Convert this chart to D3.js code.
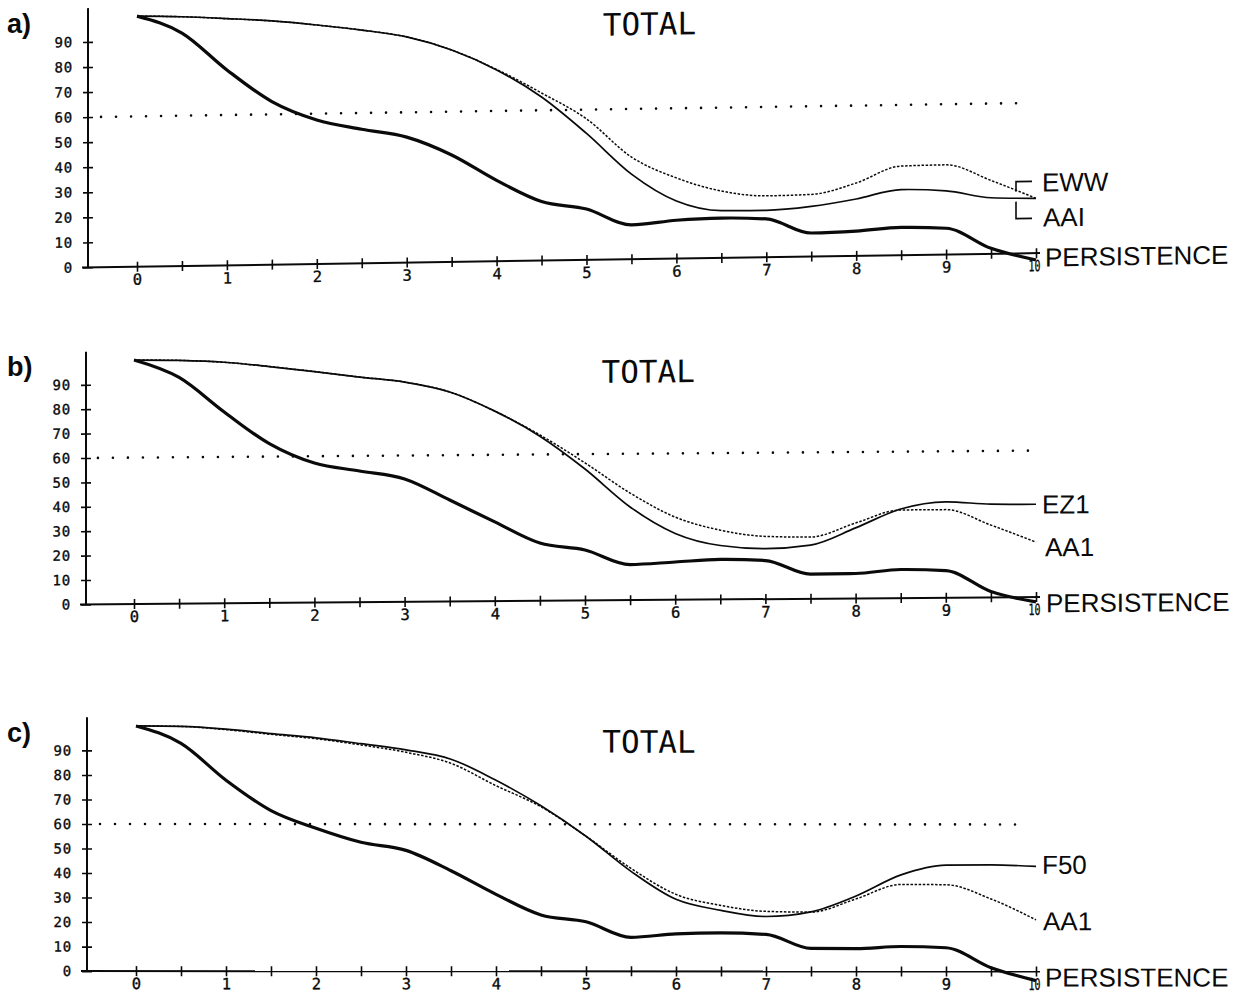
<!DOCTYPE html>
<html>
<head>
<meta charset="utf-8">
<script src="https://cdn.jsdelivr.net/npm/d3@7"></script>
<style>
  html, body { margin: 0; padding: 0; background: #fff; }
  svg { display: block; }
</style>
</head>
<body>
<script>
// Forecast day (12-hourly steps)
const days = [0, 0.5, 1, 1.5, 2, 2.5, 3, 3.5, 4, 4.5, 5, 5.5, 6, 6.5, 7, 7.5, 8, 8.5, 9, 9.5, 10];

// Axis ticks
const yTickValues = [0, 10, 20, 30, 40, 50, 60, 70, 80, 90];
const xTickValues = [0, 0.5, 1, 1.5, 2, 2.5, 3, 3.5, 4, 4.5, 5, 5.5, 6, 6.5, 7, 7.5, 8, 8.5, 9, 9.5, 10];
const xTickLabels = ["0", "1", "2", "3", "4", "5", "6", "7", "8", "9", "10"];
const thresholdValue = 60;
const titleText = "TOTAL";

// Panel a
const persistenceA = [100, 93, 78, 65.1, 57.5, 53.5, 50.1, 42.7, 32.3, 23.6, 20.3, 13.7, 15.3, 15.9, 15.3, 9.4, 9.9, 11.1, 10.5, 2.2, -2.7];
const ewwA = [100, 99.5, 98.5, 97.3, 95.4, 93.1, 90.1, 84.6, 76.4, 65.3, 50.5, 34, 23, 18.9, 18.7, 20, 22.7, 26.2, 25.4, 22.4, 21.9];
const aaiA = [100, 99.5, 98.5, 97.3, 95.4, 93.1, 90.1, 84.6, 76.6, 66.9, 56.3, 40.8, 32.2, 26.7, 24.5, 24.8, 29.1, 35.6, 35.8, 29.3, 21.9];

// Panel b
const persistenceB = [100, 92.7, 78.4, 65.3, 57.2, 53.8, 50.4, 41.6, 32.5, 23.7, 20.7, 14.6, 15.5, 16.4, 15.8, 10.1, 10.2, 11.7, 11.1, 2.4, -2.0];
const ez1B = [100, 99.7, 98.8, 96.9, 94.7, 92.3, 90.1, 85.9, 77.9, 67.5, 53.9, 38.2, 27.2, 22.1, 20.7, 22, 28.9, 36.5, 39.3, 38.2, 38];
const aa1B = [100, 99.7, 98.8, 96.9, 94.7, 92.3, 90.1, 85.9, 77.9, 68, 56.4, 43.9, 33.9, 28.4, 25.7, 25.3, 30.9, 36.1, 36.1, 29.6, 22.5];

// Panel c
const persistenceC = [100, 92.9, 77.9, 65.5, 58.3, 52.6, 49.3, 41, 31.4, 23, 20.2, 13.9, 15.3, 15.7, 15.1, 9.4, 9.3, 10.2, 9.7, 1.6, -3.7];
const f50C = [100, 99.8, 98.7, 96.9, 95.2, 92.8, 90.3, 86.5, 77.9, 67.5, 55.1, 40.8, 29.4, 24.9, 22.4, 24.3, 30.8, 39.4, 43.4, 43.5, 42.9];
const aa1C = [100, 99.8, 98.5, 96.6, 94.8, 92.3, 89.3, 84.8, 75.7, 67.1, 55.1, 42, 31.4, 26.9, 24.5, 24.2, 29.6, 35.5, 35.4, 29.6, 21.1];

const W = 1238, H = 998;
const svg = d3.select("body").append("svg")
  .attr("width", W).attr("height", H)
  .attr("viewBox", `0 0 ${W} ${H}`);

svg.append("rect").attr("width", W).attr("height", H).attr("fill", "#fff");

const INK = "#0a0a0a";
const plotFont = "'DejaVu Sans Mono', 'Liberation Mono', monospace";
const labelFont = "'Liberation Sans', Arial, sans-serif";

// Geometry of each panel (the plotter output is slightly sheared on the page)
const panels = [
  {
    tag: "a)", axisX: 88, x0: 137, x10: 1036, yZero: 267.4, unit: 2.505, shear: -0.015,
    persistence: persistenceA,
    solid: { values: ewwA },
    dotted: { values: aaiA },
    labels: [
      { text: "EWW", series: "solid", dx: 6, dy: -16 },
      { text: "AAI", series: "solid", dx: 7, dy: 19 }
    ],
    brackets: true,
    persistLabel: { dx: 9, dy: 4 }
  },
  {
    tag: "b)", axisX: 86, x0: 134, x10: 1036, yZero: 604.4, unit: 2.44, shear: -0.0078,
    persistence: persistenceB,
    solid: { values: ez1B },
    dotted: { values: aa1B },
    labels: [
      { text: "EZ1", series: "solid", dx: 6, dy: 0 },
      { text: "AA1", series: "dotted", dx: 9, dy: 5 }
    ],
    brackets: false,
    persistLabel: { dx: 10, dy: 6 }
  },
  {
    tag: "c)", axisX: 87, x0: 136, x10: 1036, yZero: 971.1, unit: 2.452, shear: 0.0005,
    persistence: persistenceC,
    solid: { values: f50C },
    dotted: { values: aa1C },
    labels: [
      { text: "F50", series: "solid", dx: 6, dy: -2 },
      { text: "AA1", series: "dotted", dx: 7, dy: 1 }
    ],
    brackets: false,
    persistLabel: { dx: 9, dy: 5.5 }
  }
];

panels.forEach(drawPanel);

function drawPanel(p) {
  const x = d3.scaleLinear().domain([0, 10]).range([p.x0, p.x10]);
  const y = d3.scaleLinear().domain([0, 100]).range([p.yZero, p.yZero - 100 * p.unit]);

  // panel letter (unsheared)
  svg.append("text")
    .attr("x", 7).attr("y", y(100) + 16)
    .attr("font-family", labelFont).attr("font-weight", "bold")
    .attr("font-size", 27).attr("fill", INK)
    .text(p.tag);

  const k = p.shear;
  const g = svg.append("g")
    .attr("transform", `matrix(1,${k},0,1,0,${-k * p.axisX})`);

  // y axis
  const yAxis = d3.axisLeft(y)
    .tickValues(yTickValues)
    .tickFormat(d => String(d))
    .tickSize(5).tickSizeOuter(0).tickPadding(10);
  const ya = g.append("g").attr("transform", `translate(${p.axisX},0)`).call(yAxis);
  ya.select(".domain").remove();
  ya.selectAll(".tick line").attr("x1", 5).attr("stroke", INK).attr("stroke-width", 1.6);
  ya.selectAll(".tick text")
    .attr("font-family", plotFont).attr("font-size", 14)
    .attr("letter-spacing", 0.8)
    .attr("stroke", INK).attr("stroke-width", 0.35)
    .attr("fill", INK);
  g.append("line")
    .attr("x1", p.axisX).attr("x2", p.axisX)
    .attr("y1", y(0)).attr("y2", y(103.5))
    .attr("stroke", INK).attr("stroke-width", 2);

  // x axis
  const xAxis = d3.axisBottom(x)
    .tickValues(xTickValues)
    .tickFormat(d => Number.isInteger(d) ? xTickLabels[d] : "")
    .tickSize(5).tickSizeOuter(0).tickPadding(2);
  const xa = g.append("g").attr("transform", `translate(0,${y(0)})`).call(xAxis);
  xa.select(".domain").remove();
  xa.selectAll(".tick line").attr("y1", -5).attr("stroke", INK).attr("stroke-width", 1.6);
  xa.selectAll(".tick text")
    .attr("font-family", plotFont).attr("font-size", 15.5)
    .attr("stroke", INK).attr("stroke-width", 0.35)
    .attr("fill", INK);
  xa.selectAll(".tick text").filter(d => d === 10)
    .attr("x", -2)
    .attr("textLength", 12).attr("lengthAdjust", "spacingAndGlyphs");
  g.append("line")
    .attr("x1", p.axisX - 6).attr("x2", x(10) + 4)
    .attr("y1", y(0)).attr("y2", y(0))
    .attr("stroke", INK).attr("stroke-width", 2);

  // dotted 60 reference line
  g.append("line")
    .attr("x1", x(-0.4)).attr("x2", x(9.92))
    .attr("y1", y(thresholdValue)).attr("y2", y(thresholdValue))
    .attr("stroke", INK).attr("stroke-width", 2.6)
    .attr("stroke-linecap", "round")
    .attr("stroke-dasharray", "0 15");

  // title
  g.append("text")
    .attr("x", x(5.7)).attr("y", y(100) + 15)
    .attr("dy", "0.37em")
    .attr("text-anchor", "middle")
    .attr("font-family", plotFont).attr("font-size", 31)
    .attr("fill", INK)
    .text(titleText);

  const line = d3.line()
    .x((d, i) => x(days[i]))
    .y(d => y(d))
    .curve(d3.curveMonotoneX);

  // dotted model curve
  g.append("path")
    .attr("d", line(p.dotted.values))
    .attr("fill", "none").attr("stroke", INK)
    .attr("stroke-width", 1.5)
    .attr("stroke-dasharray", "2.5 1.6");

  // solid model curve
  g.append("path")
    .attr("d", line(p.solid.values))
    .attr("fill", "none").attr("stroke", INK)
    .attr("stroke-width", 1.7);

  // persistence (thick)
  g.append("path")
    .attr("d", line(p.persistence))
    .attr("fill", "none").attr("stroke", INK)
    .attr("stroke-width", 3.2)
    .attr("stroke-linejoin", "round");

  // end labels
  const last = days.length - 1;
  p.labels.forEach(l => {
    const v = p[l.series].values[last];
    g.append("text")
      .attr("x", x(10) + l.dx).attr("y", y(v) + l.dy)
      .attr("dy", "0.36em")
      .attr("font-family", labelFont).attr("font-size", 26)
      .attr("fill", INK)
      .text(l.text);
  });

  if (p.brackets) {
    const ex = x(10), ey = y(p.solid.values[last]);
    const bracket = d3.line();
    g.append("path")
      .attr("d", bracket([[ex - 4, ey - 17], [ex - 20, ey - 17], [ex - 20, ey - 7]]))
      .attr("fill", "none").attr("stroke", INK).attr("stroke-width", 1.6);
    g.append("path")
      .attr("d", bracket([[ex - 20, ey + 3], [ex - 20, ey + 20], [ex - 4, ey + 20]]))
      .attr("fill", "none").attr("stroke", INK).attr("stroke-width", 1.6);
  }

  g.append("text")
    .attr("x", x(10) + p.persistLabel.dx).attr("y", y(0) + p.persistLabel.dy)
    .attr("dy", "0.36em")
    .attr("font-family", labelFont).attr("font-size", 26)
    .attr("fill", INK)
    .text("PERSISTENCE");
}
</script>
</body>
</html>
